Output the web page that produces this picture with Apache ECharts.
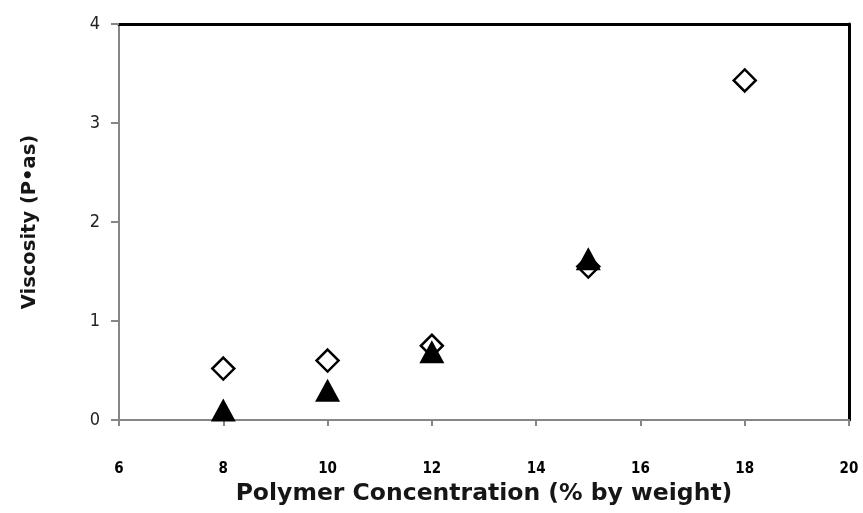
<!DOCTYPE html>
<html>
<head>
<meta charset="utf-8">
<script src="https://cdn.jsdelivr.net/npm/echarts@6/dist/echarts.min.js"></script>
<style>
  html, body { margin: 0; padding: 0; background: #fff; }
  #chart { width: 863px; height: 513px; }
</style>
</head>
<body>
<div id="chart"></div>
<script>
// Polymer concentration (% by weight) for each measured solution
const concentrationA = [8, 10, 12, 15, 18];
const viscosityA = [0.52, 0.60, 0.75, 1.55, 3.43];

const concentrationB = [8, 10, 12, 15];
const viscosityB = [0.10, 0.30, 0.69, 1.63];

const xTicks = { min: 6, max: 20, step: 2 };
const yTicks = { min: 0, max: 4, step: 1 };

const pairs = (xs, ys) => xs.map((x, i) => [x, ys[i]]);

const condensed = '"DejaVu Sans Condensed", "DejaVu Sans", sans-serif';
const titleFont = '"DejaVu Sans", sans-serif';
const gray = '#868686';

const chart = echarts.init(document.getElementById('chart'));
chart.setOption({
  animation: false,
  backgroundColor: '#fff',
  grid: { left: 119, right: 14, top: 24, bottom: 93, containLabel: false, outerBoundsMode: 'none' },
  xAxis: [{
    type: 'value',
    min: xTicks.min, max: xTicks.max, interval: xTicks.step,
    name: 'Polymer Concentration (% by weight)',
    nameLocation: 'middle', nameGap: 62,
    nameTextStyle: { fontFamily: titleFont, fontWeight: 'bold', fontSize: 23.5, color: '#161616' },
    axisLine: { onZero: false, lineStyle: { color: gray, width: 2 } },
    axisTick: { show: true, inside: false, length: 6, lineStyle: { color: gray, width: 2 } },
    axisLabel: { margin: 42, fontFamily: condensed, fontWeight: 'bold', fontSize: 15, color: '#000' },
    splitLine: { show: false }
  }, {
    type: 'value', position: 'top',
    min: xTicks.min, max: xTicks.max,
    axisLine: { show: true, onZero: false, lineStyle: { color: '#000', width: 3 } },
    axisTick: { show: false }, axisLabel: { show: false }, splitLine: { show: false }
  }],
  yAxis: [{
    type: 'value',
    min: yTicks.min, max: yTicks.max, interval: yTicks.step,
    name: 'Viscosity (P•as)',
    nameLocation: 'middle', nameGap: 79,
    nameTextStyle: { fontFamily: titleFont, fontWeight: 'bold', fontSize: 19.5, color: '#161616' },
    axisLine: { show: true, onZero: false, lineStyle: { color: gray, width: 2 } },
    axisTick: { show: true, inside: false, length: 8, lineStyle: { color: gray, width: 2 } },
    axisLabel: { margin: 19, fontFamily: condensed, fontSize: 18, color: '#222' },
    splitLine: { show: false }
  }, {
    type: 'value', position: 'right',
    min: yTicks.min, max: yTicks.max,
    axisLine: { show: true, onZero: false, lineStyle: { color: '#000', width: 3 } },
    axisTick: { show: false }, axisLabel: { show: false }, splitLine: { show: false }
  }],
  series: [{
    type: 'scatter',
    data: pairs(concentrationA, viscosityA),
    symbol: 'diamond',
    symbolSize: [22, 22],
    itemStyle: { color: '#fff', borderColor: '#000', borderWidth: 2.5, opacity: 1 },
    z: 3
  }, {
    type: 'scatter',
    data: pairs(concentrationB, viscosityB),
    symbol: 'triangle',
    symbolSize: [25, 23],
    itemStyle: { color: '#000', borderColor: '#000', borderWidth: 0, opacity: 1 },
    z: 4
  }]
});
</script>
</body>
</html>
